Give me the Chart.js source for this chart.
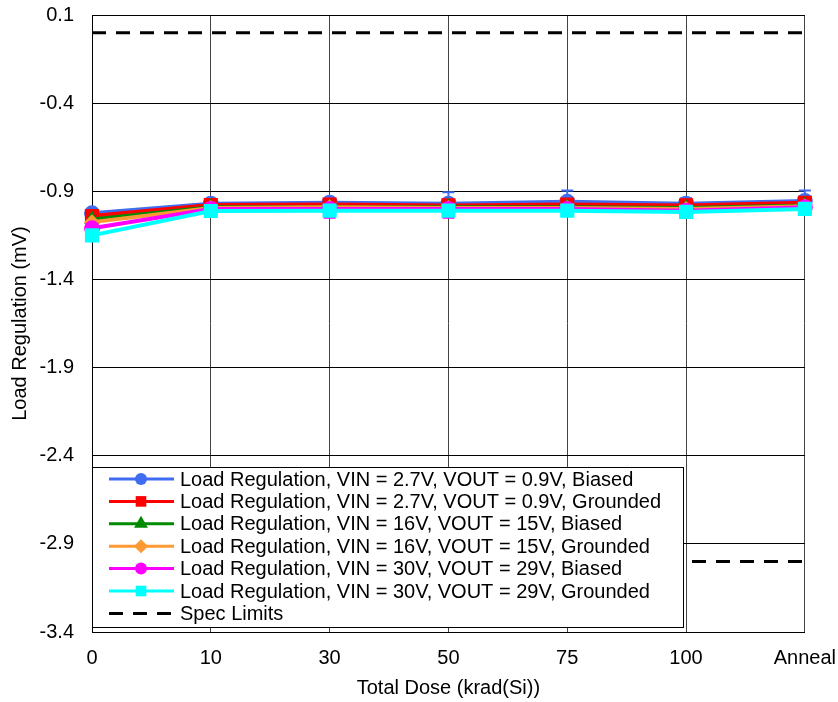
<!DOCTYPE html>
<html>
<head>
<meta charset="utf-8">
<script src="https://cdn.jsdelivr.net/npm/chart.js@4.4.1/dist/chart.umd.min.js"></script>
<style>
    body { margin: 0; background: #fff; }
    canvas { display: block; }
</style>
</head>
<body>
<canvas id="loadRegChart" width="838" height="702"></canvas>
<script>
const categories = ['0', '10', '30', '50', '75', '100', 'Anneal'];

const vin27Biased = [-1.025, -0.97, -0.965, -0.97, -0.96, -0.97, -0.955];
const vin27Grounded = [-1.04, -0.978, -0.975, -0.98, -0.975, -0.98, -0.965];
const vin16Biased = [-1.06, -0.99, -0.99, -0.99, -0.99, -0.995, -0.98];
const vin16Grounded = [-1.075, -0.995, -0.99, -0.995, -0.995, -1.0, -0.985];
const vin30Biased = [-1.11, -1.0, -1.0, -1.0, -1.0, -1.01, -0.99];
const vin30Grounded = [-1.15, -1.012, -1.01, -1.01, -1.01, -1.017, -1.0];

const vin27BiasedErr = [0.02, 0.02, 0.02, 0.065, 0.065, 0.03, 0.06];
const vin30BiasedErr = [0.02, 0.02, 0.05, 0.05, 0.03, 0.02, 0.02];

const specUpper = [0, 0, 0, 0, 0, 0, 0];
const specLower = [-3, -3, -3, -3, -3, -3, -3];

const yTicks = { min: -3.4, max: 0.1, step: 0.5 };

const fontFamily = '"Liberation Sans", Arial, sans-serif';

function series(label, data, color, style, radius, order, errors) {
    return {
        label: label,
        data: data,
        borderColor: color,
        backgroundColor: color,
        borderWidth: 4,
        pointStyle: style,
        pointRadius: radius,
        pointBorderWidth: 0,
        tension: 0,
        order: order,
        errors: errors || null
    };
}

const datasets = [
    series('Load Regulation, VIN = 2.7V, VOUT = 0.9V, Biased', vin27Biased, '#3f6cf0', 'circle', 8, 5, vin27BiasedErr),
    series('Load Regulation, VIN = 2.7V, VOUT = 0.9V, Grounded', vin27Grounded, '#ff0000', 'rect', 10, 4),
    series('Load Regulation, VIN = 16V, VOUT = 15V, Biased', vin16Biased, '#008a00', 'triangle', 9, 3),
    series('Load Regulation, VIN = 16V, VOUT = 15V, Grounded', vin16Grounded, '#ff9933', 'rectRot', 8, 2),
    series('Load Regulation, VIN = 30V, VOUT = 29V, Biased', vin30Biased, '#ff00ff', 'circle', 8, 1, vin30BiasedErr),
    series('Load Regulation, VIN = 30V, VOUT = 29V, Grounded', vin30Grounded, '#00ffff', 'rect', 10, 0),
    {
        label: 'Spec Limits',
        data: specUpper,
        borderColor: '#000',
        borderWidth: 3,
        borderDash: [14, 10],
        pointRadius: 0,
        order: 6
    },
    {
        label: 'Spec Limits (lower)',
        data: specLower,
        borderColor: '#000',
        borderWidth: 3,
        borderDash: [14, 10],
        pointRadius: 0,
        order: 6
    }
];

const legendMarkerSize = { circle: 6, rect: 7.5, triangle: 8, rectRot: 7 };

// small vertical error bars, drawn behind the markers
const errorBars = {
    id: 'errorBars',
    beforeDatasetsDraw(chart) {
        const ctx = chart.ctx;
        const y = chart.scales.y;
        chart.data.datasets.forEach((ds, i) => {
            if (!ds.errors) return;
            const meta = chart.getDatasetMeta(i);
            ctx.save();
            ctx.strokeStyle = ds.borderColor;
            ctx.lineWidth = 2;
            meta.data.forEach((pt, j) => {
                const top = y.getPixelForValue(ds.data[j] + ds.errors[j]);
                const bot = y.getPixelForValue(ds.data[j] - ds.errors[j]);
                ctx.beginPath();
                ctx.moveTo(pt.x, top);
                ctx.lineTo(pt.x, bot);
                ctx.moveTo(pt.x - 6, top);
                ctx.lineTo(pt.x + 6, top);
                ctx.moveTo(pt.x - 6, bot);
                ctx.lineTo(pt.x + 6, bot);
                ctx.stroke();
            });
            ctx.restore();
        });
    }
};

// boxed legend sitting inside the plot, bottom left
const boxLegend = {
    id: 'boxLegend',
    afterDraw(chart) {
        const ctx = chart.ctx;
        const area = chart.chartArea;
        const items = chart.data.datasets.slice(0, 7);
        const left = area.left;
        const top = 467;
        const width = 591;
        const rowH = 22.4;
        const height = 160;
        ctx.save();
        ctx.fillStyle = '#fff';
        ctx.fillRect(left, top, width, height);
        ctx.strokeStyle = '#000';
        ctx.lineWidth = 1;
        ctx.strokeRect(left + 0.5, top + 0.5, width, height);
        ctx.font = '20px ' + fontFamily;
        ctx.textBaseline = 'middle';
        items.forEach((ds, i) => {
            const cy = top + 12 + i * rowH;
            ctx.strokeStyle = ds.borderColor;
            ctx.lineWidth = 3;
            ctx.setLineDash(ds.borderDash || []);
            ctx.beginPath();
            ctx.moveTo(left + 17, cy);
            ctx.lineTo(left + 82, cy);
            ctx.stroke();
            ctx.setLineDash([]);
            if (ds.pointStyle) {
                ctx.fillStyle = ds.backgroundColor;
                Chart.helpers.drawPoint(ctx, {
                    pointStyle: ds.pointStyle,
                    radius: legendMarkerSize[ds.pointStyle],
                    rotation: 0,
                    borderWidth: 0
                }, left + 49, cy);
            }
            ctx.fillStyle = '#000';
            ctx.fillText(ds.label, left + 88, cy + 1);
        });
        ctx.restore();
    }
};

const ctx = document.getElementById('loadRegChart').getContext('2d');
new Chart(ctx, {
    type: 'line',
    data: {
        labels: categories,
        datasets: datasets
    },
    options: {
        responsive: false,
        animation: false,
        layout: {
            padding: { top: 15, right: 33, bottom: 0, left: 0 }
        },
        plugins: {
            legend: { display: false },
            tooltip: { enabled: false }
        },
        scales: {
            x: {
                offset: false,
                grid: {
                    color: '#444',
                    lineWidth: 1,
                    drawTicks: true,
                    tickLength: 12,
                    tickColor: 'rgba(0,0,0,0)'
                },
                border: { color: '#000', width: 1 },
                ticks: {
                    color: '#000',
                    padding: 2,
                    maxRotation: 0,
                    font: { family: fontFamily, size: 20 }
                },
                title: {
                    display: true,
                    text: 'Total Dose (krad(Si))',
                    color: '#000',
                    padding: { top: 2, bottom: 2 },
                    font: { family: fontFamily, size: 20 }
                },
                afterFit(scale) { scale.height = 70; }
            },
            y: {
                min: yTicks.min,
                max: yTicks.max,
                grid: {
                    color: '#000',
                    lineWidth: 1,
                    drawTicks: true,
                    tickLength: 16,
                    tickColor: 'rgba(0,0,0,0)'
                },
                border: { color: '#000', width: 1 },
                ticks: {
                    stepSize: yTicks.step,
                    color: '#000',
                    padding: 2,
                    font: { family: fontFamily, size: 20 },
                    callback: v => Number(v).toFixed(1)
                },
                title: {
                    display: true,
                    text: 'Load Regulation (mV)',
                    color: '#000',
                    padding: { top: 8, bottom: 0 },
                    font: { family: fontFamily, size: 20 }
                },
                afterFit(scale) { scale.width = 92; }
            }
        }
    },
    plugins: [errorBars, boxLegend]
});
</script>
</body>
</html>
